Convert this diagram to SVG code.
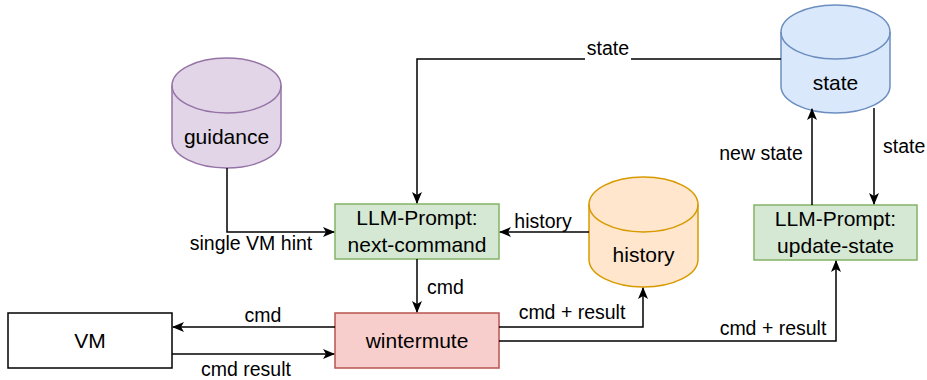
<svg xmlns="http://www.w3.org/2000/svg" width="927" height="380" viewBox="0 0 927 380">
<style>
text{font-family:"Liberation Sans",Arial,sans-serif;fill:#000}
.n{font-size:21px;text-anchor:middle}
.e{font-size:19.5px}
.c{stroke-width:1.5}
.edge{fill:none;stroke:#000;stroke-width:1.5}
</style>
<defs>
<marker id="a" markerUnits="userSpaceOnUse" viewBox="0 0 12 12" refX="11" refY="6" markerWidth="12" markerHeight="12" orient="auto">
<path d="M0,1 L12,6 L0,11 L3,6 Z" fill="#000"/>
</marker>
</defs>
<g id="guidance">
<path class="c" d="M172,85.5 A54.5,27.5 0 0 1 281,85.5 V140.5 A54.5,27.5 0 0 1 172,140.5 Z" fill="#e1d5e7" stroke="#9673a6"/>
<path class="c" d="M172,85.5 A54.5,27.5 0 0 0 281,85.5" fill="none" stroke="#9673a6"/>
<text class="n" x="226.5" y="144">guidance</text>
</g>
<g id="state">
<path class="c" d="M781,32 A54.5,27 0 0 1 890,32 V86 A54.5,27 0 0 1 781,86 Z" fill="#dae8fc" stroke="#6c8ebf"/>
<path class="c" d="M781,32 A54.5,27 0 0 0 890,32" fill="none" stroke="#6c8ebf"/>
<text class="n" x="835.5" y="90">state</text>
</g>
<g id="history">
<path class="c" d="M589,204.5 A54.5,27.5 0 0 1 698,204.5 V259.5 A54.5,27.5 0 0 1 589,259.5 Z" fill="#ffe6cc" stroke="#d79b00"/>
<path class="c" d="M589,204.5 A54.5,27.5 0 0 0 698,204.5" fill="none" stroke="#d79b00"/>
<text class="n" x="643.5" y="262">history</text>
</g>
<g id="next-command">
<rect class="c" x="335" y="204" width="164" height="55" fill="#d5e8d4" stroke="#82b366"/>
<text class="n" x="417" y="225">LLM-Prompt:</text>
<text class="n" x="417" y="252">next-command</text>
</g>
<g id="update-state">
<rect class="c" x="754" y="205" width="163" height="55" fill="#d5e8d4" stroke="#82b366"/>
<text class="n" x="835.5" y="226">LLM-Prompt:</text>
<text class="n" x="835.5" y="253">update-state</text>
</g>
<g id="wintermute">
<rect class="c" x="335" y="313" width="164" height="55" fill="#f8cecc" stroke="#b85450"/>
<text class="n" x="417" y="348">wintermute</text>
</g>
<g id="VM">
<rect class="c" x="8" y="313" width="164" height="55" fill="#fff" stroke="#000"/>
<text class="n" x="90" y="348">VM</text>
</g>
<g id="connectors">
<path class="edge" d="M781,59 H417 V203" marker-end="url(#a)"/>
<rect x="585" y="38" width="46" height="22" fill="#fff"/>
<text class="e" x="608" y="55" text-anchor="middle">state</text>
<path class="edge" d="M227,168 V232 H334" marker-end="url(#a)"/>
<text class="e" x="251" y="250" text-anchor="middle">single VM hint</text>
<path class="edge" d="M589,232 H500" marker-end="url(#a)"/>
<text class="e" x="543" y="228" text-anchor="middle">history</text>
<path class="edge" d="M417,259 V312" marker-end="url(#a)"/>
<text class="e" x="427" y="294">cmd</text>
<path class="edge" d="M335,327 H173" marker-end="url(#a)"/>
<text class="e" x="263" y="322" text-anchor="middle">cmd</text>
<path class="edge" d="M172,354 H334" marker-end="url(#a)"/>
<text class="e" x="246" y="376" text-anchor="middle">cmd result</text>
<path class="edge" d="M499,327 H643 V288" marker-end="url(#a)"/>
<text class="e" x="572" y="319" text-anchor="middle">cmd + result</text>
<path class="edge" d="M499,341 H836 V261" marker-end="url(#a)"/>
<text class="e" x="773" y="335" text-anchor="middle">cmd + result</text>
<path class="edge" d="M812,205 V109" marker-end="url(#a)"/>
<text class="e" x="761" y="160" text-anchor="middle">new state</text>
<path class="edge" d="M874,108 V204" marker-end="url(#a)"/>
<text class="e" x="883" y="153">state</text>
</g>
</svg>
